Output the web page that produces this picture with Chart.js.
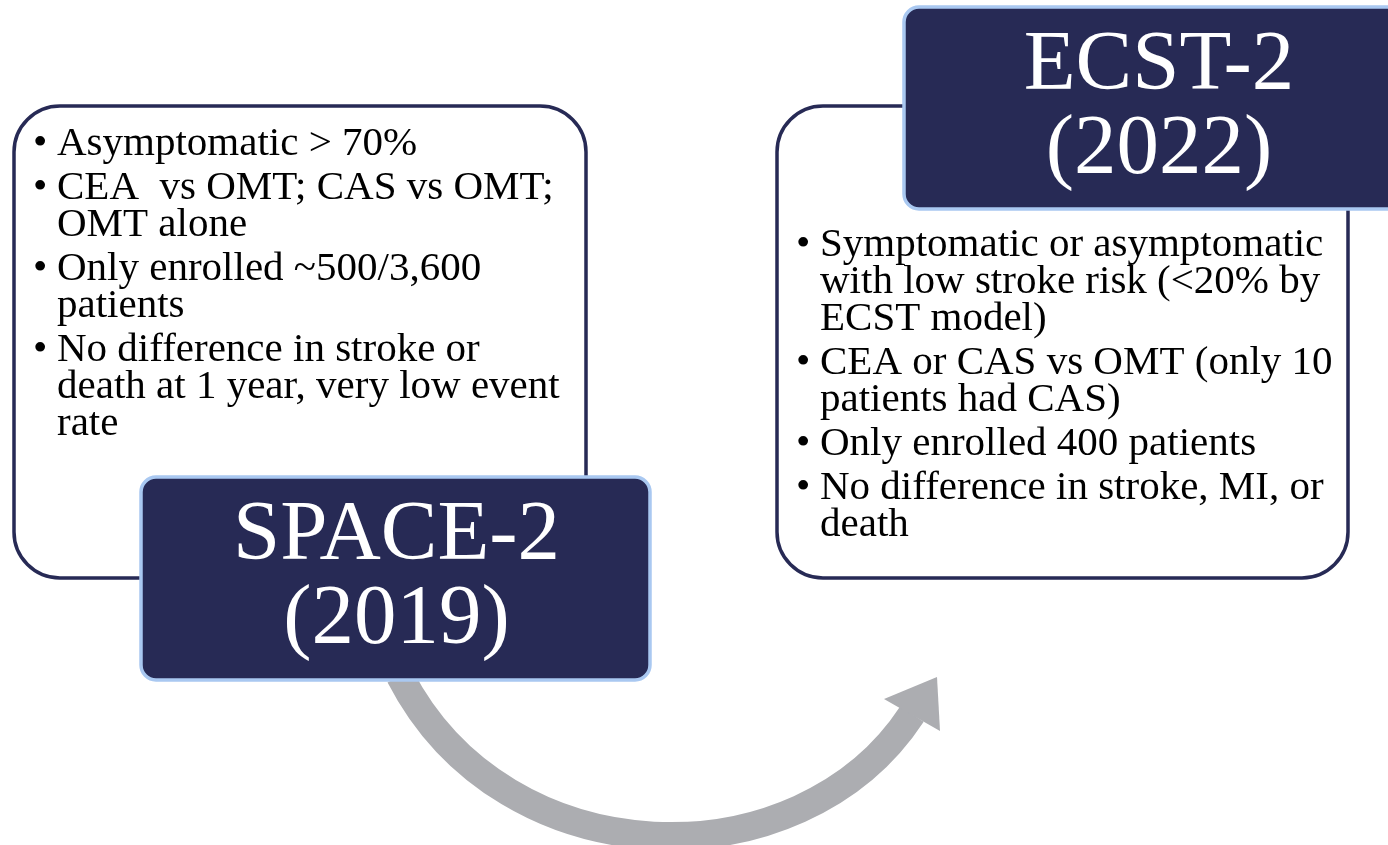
<!DOCTYPE html>
<html>
<head>
<meta charset="utf-8">
<script src="https://cdn.jsdelivr.net/npm/chart.js@4.4.0/dist/chart.umd.min.js"></script>
<style>
  html, body { margin: 0; padding: 0; background: #fff; }
  #wrap { width: 1388px; height: 845px; }
</style>
</head>
<body>
<div id="wrap"><canvas id="trialChart"></canvas></div>
<script>
// Trial titles
const trialNames = ['SPACE-2', 'ECST-2'];
const trialYears = ['(2019)', '(2022)'];

// Bullet text, one inner array per bullet (lines as they wrap on the slide)
const space2Bullets = [
  ['Asymptomatic > 70%'],
  ['CEA  vs OMT; CAS vs OMT;', 'OMT alone'],
  ['Only enrolled ~500/3,600', 'patients'],
  ['No difference in stroke or', 'death at 1 year, very low event', 'rate']
];
const ecst2Bullets = [
  ['Symptomatic or asymptomatic', 'with low stroke risk (<20% by', 'ECST model)'],
  ['CEA or CAS vs OMT (only 10', 'patients had CAS)'],
  ['Only enrolled 400 patients'],
  ['No difference in stroke, MI, or', 'death']
];

// Colours
const NAVY = '#272a55';
const EDGE = '#a9c8f1';
const GREY = '#acadb1';
const FONT = '"Liberation Serif", "Times New Roman", serif';

// Layout of the two panels (slide pixels)
const panels = [
  { box: [14, 106, 586, 578], label: [141, 477, 650, 680], textX: 57, firstBase: 155,
    bullets: space2Bullets, name: trialNames[0], year: trialYears[0] },
  { box: [777, 106, 1348, 578], label: [904, 7, 1412, 209], textX: 820, firstBase: 256,
    bullets: ecst2Bullets, name: trialNames[1], year: trialYears[1] }
];

// Curved arrow centre line (cubic) and head
const arrowPath = [[400, 676], [505, 880], [800, 885], [912, 714]];
const arrowHead = [[937, 677], [884, 699], [940, 731]];

function fitSize(ctx, text, width) {
  ctx.font = '100px ' + FONT;
  return 100 * width / ctx.measureText(text).width;
}

const diagramPlugin = {
  id: 'diagram',
  afterDraw(chart) {
    const ctx = chart.ctx;
    const sx = chart.scales.x, sy = chart.scales.y;
    const X = v => sx.getPixelForValue(v);
    const Y = v => sy.getPixelForValue(v);

    const bodySize = fitSize(ctx, 'Symptomatic or asymptomatic', 503);
    const titleSize = fitSize(ctx, 'SPACE-2', 327);

    ctx.save();

    // white boxes with navy outline
    panels.forEach(p => {
      const [x0, y0, x1, y1] = p.box;
      ctx.beginPath();
      ctx.roundRect(X(x0), Y(y0), X(x1) - X(x0), Y(y1) - Y(y0), 46);
      ctx.fillStyle = '#fff';
      ctx.fill();
      ctx.lineWidth = 3.5;
      ctx.strokeStyle = NAVY;
      ctx.stroke();
    });

    // grey curved arrow
    const a = arrowPath;
    ctx.beginPath();
    ctx.moveTo(X(a[0][0]), Y(a[0][1]));
    ctx.bezierCurveTo(X(a[1][0]), Y(a[1][1]), X(a[2][0]), Y(a[2][1]), X(a[3][0]), Y(a[3][1]));
    ctx.lineWidth = 28;
    ctx.lineCap = 'butt';
    ctx.strokeStyle = GREY;
    ctx.stroke();
    ctx.beginPath();
    arrowHead.forEach((pt, i) => i ? ctx.lineTo(X(pt[0]), Y(pt[1])) : ctx.moveTo(X(pt[0]), Y(pt[1])));
    ctx.closePath();
    ctx.fillStyle = GREY;
    ctx.fill();

    // navy label boxes
    panels.forEach(p => {
      const [x0, y0, x1, y1] = p.label;
      ctx.beginPath();
      ctx.roundRect(X(x0), Y(y0), X(x1) - X(x0), Y(y1) - Y(y0), 15);
      ctx.fillStyle = NAVY;
      ctx.fill();
      ctx.lineWidth = 3.5;
      ctx.strokeStyle = EDGE;
      ctx.stroke();

      const cx = (Math.min(x1, 1412) + x0) / 2 + 1;
      ctx.fillStyle = '#fff';
      ctx.textAlign = 'center';
      ctx.textBaseline = 'alphabetic';
      ctx.font = titleSize.toFixed(1) + 'px ' + FONT;
      ctx.fillText(p.name, X(cx), Y(y0 + 82));
      ctx.fillText(p.year, X(cx), Y(y0 + 166));
    });

    // bullet text
    ctx.fillStyle = '#000';
    ctx.textAlign = 'left';
    ctx.font = bodySize.toFixed(1) + 'px ' + FONT;
    panels.forEach(p => {
      let base = p.firstBase;
      p.bullets.forEach((lines, bi) => {
        if (bi > 0) base += 7;
        ctx.fillText('\u2022', X(p.textX - 24), Y(base));
        lines.forEach((ln, li) => {
          if (li > 0) base += 37;
          ctx.fillText(ln, X(p.textX), Y(base));
        });
        base += 37;
      });
    });

    ctx.restore();
  }
};

new Chart(document.getElementById('trialChart'), {
  type: 'scatter',
  data: { datasets: [] },
  options: {
    responsive: true,
    maintainAspectRatio: false,
    animation: false,
    layout: { padding: 0 },
    scales: {
      x: { type: 'linear', min: 0, max: 1388, display: false },
      y: { type: 'linear', min: 0, max: 845, reverse: true, display: false }
    },
    plugins: {
      legend: { display: false },
      tooltip: { enabled: false }
    }
  },
  plugins: [diagramPlugin]
});
</script>
</body>
</html>
